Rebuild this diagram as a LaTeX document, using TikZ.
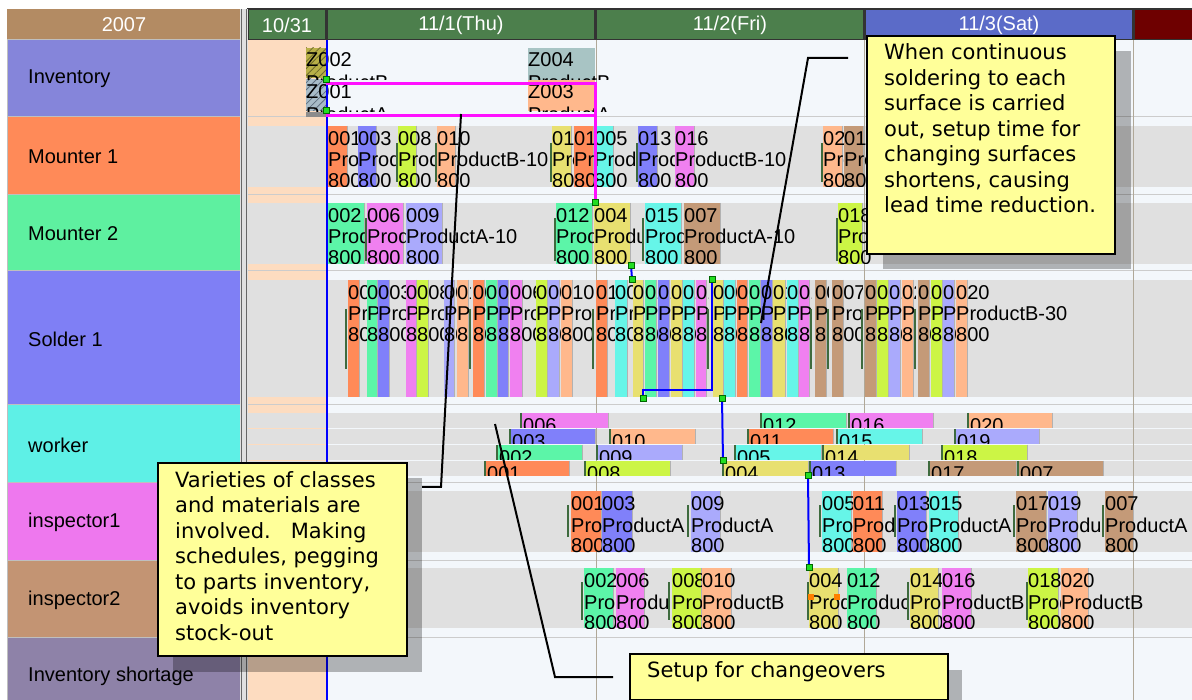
\documentclass[tikz,border=0pt]{standalone}
\usepackage{fontspec}
\setmainfont{DejaVu Sans}
\newfontfamily\uifont{Liberation Sans}
\usetikzlibrary{patterns.meta}

% palette
\definecolor{cOr}{HTML}{FF8A58}
\definecolor{cMi}{HTML}{5CF5A8}
\definecolor{cBl}{HTML}{8080FA}
\definecolor{cYe}{HTML}{E8E070}
\definecolor{cCy}{HTML}{66F5E8}
\definecolor{cPk}{HTML}{F080F0}
\definecolor{cBr}{HTML}{C49A78}
\definecolor{cYg}{HTML}{CCF545}
\definecolor{cLv}{HTML}{AAAAFC}
\definecolor{cPe}{HTML}{FFB88C}
\definecolor{hdrTan}{HTML}{B38B63}
\definecolor{hdrGreen}{HTML}{4C7F4C}
\definecolor{hdrBlue}{HTML}{5B6BC8}
\definecolor{hdrRed}{HTML}{6E0000}
\definecolor{lbInv}{HTML}{8585DA}
\definecolor{lbMnt}{HTML}{FF8A58}
\definecolor{lbMnt2}{HTML}{5EF0A0}
\definecolor{lbSld}{HTML}{7F7FF5}
\definecolor{lbWrk}{HTML}{5EF0E6}
\definecolor{lbIns}{HTML}{EE78EE}
\definecolor{lbIns2}{HTML}{C39473}
\definecolor{lbShort}{HTML}{8E82A8}
\definecolor{chartBg}{HTML}{F3F7FB}
\definecolor{bandGray}{HTML}{E0E0E0}
\definecolor{peach}{HTML}{FDDCC0}
\definecolor{setupGreen}{HTML}{3E6B3E}
\definecolor{markGreen}{HTML}{22DD22}
\definecolor{noteYellow}{HTML}{FFFF99}
\definecolor{zOlive}{HTML}{B8B048}
\definecolor{zOliveDk}{HTML}{6E6A2A}
\definecolor{zSlate}{HTML}{A8BCC8}
\definecolor{zSlateDk}{HTML}{607080}
\definecolor{zTeal}{HTML}{A8C4C4}
\definecolor{dayLine}{HTML}{B0A898}
\definecolor{pegMagenta}{HTML}{FF10FF}

\tikzset{
  jobtext/.style={anchor=base west, inner sep=0pt, font=\uifont\fontsize{20}{20}\selectfont, text=black},
  rowlabel/.style={anchor=west, inner sep=0pt, font=\uifont\fontsize{20}{20}\selectfont, text=black},
  headtext/.style={inner sep=0pt, font=\uifont\fontsize{20}{20}\selectfont, text=white},
  hdrcell/.style={draw=black!80, line width=1.2pt},
  labelcell/.style={draw=black!25, line width=1pt},
  setupline/.style={draw=setupGreen, line width=2.5pt},
  jobedge/.style={draw=black!30, line width=0.7pt},
  pegline/.style={draw=pegMagenta, line width=3pt},
  linkline/.style={draw=blue, line width=2pt},
  marker/.style={fill=markGreen, draw=green!40!black, line width=0.3pt, minimum size=6pt, inner sep=0pt},
  omarker/.style={fill=orange, minimum size=6pt, inner sep=0pt},
  note/.style={fill=noteYellow, draw=black, line width=2pt, inner sep=0pt, anchor=north west},
  noteshadow/.style={fill=black, opacity=0.28},
  notetext/.style={anchor=base west, inner sep=0pt, font=\fontsize{21}{25}\selectfont},
  leader/.style={draw=black, line width=2pt},
  hatch/.style={pattern={Lines[angle=45,distance=5pt,line width=0.8pt]}, pattern color=#1},
}

% row geometry: band top, band bottom, setup tick top, setup tick bottom, row name
\newcommand\rowband[5]{\def\rowtop{#1}\def\rowbot{#2}\def\ticktop{#3}\def\tickbot{#4}\def\rowname{#5}}
% one job bar: left, right, where its caption stops, colour, number, product
\newcommand\gjob[6]{%
  \fill[#4] (#1,\rowtop) rectangle (#2,\rowbot);
  \draw[jobedge] (#2,\rowtop) -- (#2,\rowbot);
  \begin{scope}
    \clip (#1,\rowtop) rectangle (#3,\rowbot);
    \node[jobtext] (\rowname-#5-n) at (#1,\rowtop+19.5) {#5};
    \node[jobtext] (\rowname-#5-p) at (#1,\rowtop+41) {#6};
    \node[jobtext] (\rowname-#5-q) at (#1,\rowtop+61.5) {800};
  \end{scope}}
\newcommand\setuptick[1]{\draw[setupline] (#1,\ticktop) -- (#1,\tickbot);}
% one worker bar: left, right, lane top, colour, number
\newcommand\wjob[5]{%
  \fill[#4] (#1,#3) rectangle (#2,#3+15);
  \draw[jobedge] (#2,#3) -- (#2,#3+15);
  \draw[setupline, line width=2pt] (#1+1,#3) -- (#1+1,#3+15);
  \begin{scope}
    \clip (#1,#3) rectangle (#2,#3+15);
    \node[jobtext] (w-#5) at (#1+3,#3+19.5) {#5};
  \end{scope}}

\begin{document}
\begin{tikzpicture}[x=1pt, y=-1pt]
\useasboundingbox (0,0) rectangle (1192,700);
\fill[white] (0,0) rectangle (1192,700);

% ---- header ----
\fill[hdrTan] (7,9) rectangle (240,40);
\node[headtext] (hYear) at (124,25) {2007};
\path[hdrcell, fill=hdrGreen] (248,9) rectangle (326,40);
\path[hdrcell, fill=hdrGreen] (327,9) rectangle (595,40);
\path[hdrcell, fill=hdrGreen] (596,9) rectangle (864,40);
\path[hdrcell, fill=hdrBlue] (865,9) rectangle (1133,40);
\path[hdrcell, fill=hdrRed] (1134,9) rectangle (1193,40);
\node[headtext] (hD0) at (287,25) {10/31};
\node[headtext] (hD1) at (461,25) {11/1(Thu)};
\node[headtext] (hD2) at (730,25) {11/2(Fri)};
\node[headtext] (hD3) at (999,25) {11/3(Sat)};

% ---- resource labels ----
\path[labelcell, fill=lbInv] (7,40) rectangle (240,117);
\path[labelcell, fill=lbMnt] (7,117) rectangle (240,195);
\path[labelcell, fill=lbMnt2] (7,195) rectangle (240,271);
\path[labelcell, fill=lbSld] (7,271) rectangle (240,405);
\path[labelcell, fill=lbWrk] (7,405) rectangle (240,483);
\path[labelcell, fill=lbIns] (7,483) rectangle (240,560);
\path[labelcell, fill=lbIns2] (7,560) rectangle (240,637);
\path[labelcell, fill=lbShort] (7,637) rectangle (240,701);
\node[rowlabel] (lInv) at (28,79) {Inventory};
\node[rowlabel] (lM1) at (28,157) {Mounter 1};
\node[rowlabel] (lM2) at (28,234) {Mounter 2};
\node[rowlabel] (lS1) at (28,339) {Solder 1};
\node[rowlabel] (lW) at (28,445) {worker};
\node[rowlabel] (lI1) at (28,522) {inspector1};
\node[rowlabel] (lI2) at (28,600) {inspector2};
\node[rowlabel] (lSh) at (28,676) {Inventory shortage};

% splitter between labels and chart
\fill[black!12] (240,9) rectangle (248,700);
\draw[black!60, line width=1pt] (241,9) -- (241,700);
\draw[black!60, line width=1pt] (246,9) -- (246,700);

% ---- chart background ----
\fill[chartBg] (248,40) rectangle (1192,700);
\fill[peach] (248,40) rectangle (326,700);
\foreach \a/\b in {126/187, 203/264, 280/397, 413/428, 429/444, 445/460, 461/476, 491/552, 568/628}
  \fill[bandGray] (248,\a) rectangle (1192,\b);
\foreach \r in {117, 195, 271, 405, 483, 560, 637}
  \draw[black!20, line width=1pt] (248,\r) -- (1192,\r);
\foreach \d in {596, 864, 1133}
  \draw[dayLine, line width=0.8pt] (\d,40) -- (\d,700);

% ---- inventory lots ----
\fill[zOlive] (306,48) rectangle (326,78);
\fill[hatch=zOliveDk] (306,48) rectangle (326,78);
\fill[zSlate] (306,79) rectangle (326,111);
\fill[hatch=zSlateDk] (306,79) rectangle (326,111);
\fill[black!45] (306,112) rectangle (326,117);
\fill[zTeal] (528,48) rectangle (595,80);
\fill[cPe] (528,80) rectangle (595,111);
\begin{scope}
  \clip (300,44) rectangle (700,80);
  \node[jobtext] (z002) at (306,67) {Z002};
  \node[jobtext] (z002p) at (306,90) {ProductB};
  \node[jobtext] (z004) at (528,67) {Z004};
  \node[jobtext] (z004p) at (528,90) {ProductB};
\end{scope}
\begin{scope}
  \clip (300,80) rectangle (700,112);
  \node[jobtext] (z001) at (306,99) {Z001};
  \node[jobtext] (z001p) at (306,122) {ProductA};
  \node[jobtext] (z003) at (528,99) {Z003};
  \node[jobtext] (z003p) at (528,122) {ProductA};
\end{scope}

% ---- Mounter 1 ----
\rowband{126}{187}{143}{182}{m1}
\gjob{328}{347}{358}{cOr}{001}{ProductB-10}
\gjob{358}{376}{397}{cBl}{003}{ProductB-10}
\setuptick{397}
\gjob{398}{416}{436}{cYg}{008}{ProductB-10}
\setuptick{436}
\gjob{437}{455}{551}{cPe}{010}{ProductB-10}
\setuptick{551}
\gjob{552}{571}{574}{cYe}{014}{ProductB-10}
\gjob{574}{593}{594}{cOr}{011}{ProductA-10}
\gjob{594}{613}{637}{cCy}{005}{ProductA-10}
\setuptick{637}
\gjob{638}{657}{675}{cBl}{013}{ProductA-10}
\gjob{675}{694}{822}{cPk}{016}{ProductB-10}
\setuptick{822}
\gjob{823}{842}{844}{cPe}{020}{ProductB-10}
\gjob{844}{863}{1192}{cBr}{017}{ProductA-10}

% ---- Mounter 2 ----
\rowband{203}{264}{218}{261}{m2}
\gjob{328}{364}{366}{cMi}{002}{ProductA-10}
\setuptick{366}
\gjob{367}{403}{406}{cPk}{006}{ProductA-10}
\gjob{406}{442}{555}{cLv}{009}{ProductA-10}
\setuptick{555}
\gjob{556}{592}{594}{cMi}{012}{ProductA-10}
\gjob{594}{630}{643}{cYe}{004}{ProductA-10}
\setuptick{643}
\gjob{645}{681}{684}{cCy}{015}{ProductA-10}
\gjob{684}{720}{837}{cBr}{007}{ProductA-10}
\setuptick{837}
\gjob{838}{862}{1192}{cYg}{018}{ProductA-10}

% ---- Solder 1 ----
\rowband{280}{397}{309}{369}{s1}
\setuptick{346}
\gjob{348}{359}{367}{cOr}{001}{ProductA-30}
\gjob{367}{377}{378}{cMi}{002}{ProductB-30}
\gjob{378}{389}{406}{cBl}{003}{ProductA-30}
\gjob{406}{416}{417}{cPk}{006}{ProductB-30}
\gjob{417}{428}{444}{cYg}{008}{ProductB-30}
\gjob{444}{454}{457}{cLv}{009}{ProductA-30}
\gjob{457}{468}{470}{cPe}{010}{ProductB-30}
\setuptick{470}
\gjob{473}{484}{486}{cOr}{001}{ProductA-30}
\gjob{486}{497}{498}{cMi}{002}{ProductB-30}
\gjob{498}{508}{510}{cBl}{003}{ProductA-30}
\gjob{510}{522}{536}{cPk}{006}{ProductB-30}
\gjob{536}{547}{548}{cYg}{008}{ProductB-30}
\gjob{548}{559}{561}{cLv}{009}{ProductA-30}
\gjob{561}{572}{593}{cPe}{010}{ProductB-30}
\setuptick{593}
\gjob{596}{607}{615}{cOr}{011}{ProductA-30}
\gjob{615}{627}{633}{cCy}{005}{ProductA-30}
\gjob{633}{643}{645}{cYe}{004}{ProductB-30}
\gjob{645}{656}{658}{cMi}{012}{ProductB-30}
\gjob{658}{669}{671}{cBl}{013}{ProductA-30}
\gjob{671}{682}{683}{cYe}{014}{ProductB-30}
\gjob{683}{694}{696}{cCy}{015}{ProductA-30}
\gjob{696}{706}{708}{cPk}{016}{ProductB-30}
\setuptick{708}
\gjob{713}{723}{724}{cYe}{004}{ProductB-30}
\gjob{724}{735}{737}{cCy}{005}{ProductA-30}
\gjob{737}{747}{749}{cOr}{011}{ProductA-30}
\gjob{749}{760}{761}{cMi}{012}{ProductB-30}
\gjob{761}{772}{773}{cBl}{013}{ProductA-30}
\gjob{773}{785}{787}{cYe}{014}{ProductB-30}
\gjob{787}{798}{799}{cCy}{015}{ProductA-30}
\gjob{799}{809}{811}{cPk}{016}{ProductB-30}
\setuptick{811}
\gjob{815}{826}{828}{cBr}{007}{ProductA-30}
\setuptick{828}
\gjob{832}{843}{862}{cBr}{007}{ProductA-30}
\setuptick{862}
\gjob{865}{876}{877}{cBr}{017}{ProductA-30}
\gjob{877}{888}{889}{cYg}{018}{ProductB-30}
\gjob{889}{900}{902}{cLv}{019}{ProductA-30}
\gjob{902}{913}{915}{cPe}{020}{ProductB-30}
\setuptick{915}
\gjob{918}{929}{931}{cBr}{017}{ProductA-30}
\gjob{931}{942}{943}{cYg}{018}{ProductB-30}
\gjob{943}{954}{956}{cLv}{019}{ProductA-30}
\gjob{956}{967}{1192}{cPe}{020}{ProductB-30}

% ---- worker (four lanes) ----
\wjob{520}{608}{413}{cPk}{006}
\wjob{760}{846}{413}{cMi}{012}
\wjob{848}{933}{413}{cPk}{016}
\wjob{967}{1052}{413}{cPe}{020}
\wjob{509}{595}{429}{cBl}{003}
\wjob{609}{695}{429}{cPe}{010}
\wjob{747}{833}{429}{cOr}{011}
\wjob{836}{922}{429}{cCy}{015}
\wjob{954}{1039}{429}{cLv}{019}
\wjob{496}{582}{445}{cMi}{002}
\wjob{596}{682}{445}{cLv}{009}
\wjob{734}{821}{445}{cCy}{005}
\wjob{822}{909}{445}{cYe}{014}
\wjob{941}{1027}{445}{cYg}{018}
\wjob{484}{569}{461}{cOr}{001}
\wjob{584}{670}{461}{cYg}{008}
\wjob{722}{808}{461}{cYe}{004}
\wjob{809}{896}{461}{cBl}{013}
\wjob{928}{1016}{461}{cBr}{017}
\wjob{1017}{1103}{461}{cBr}{007}

% ---- inspector1 ----
\rowband{491}{552}{505}{537}{i1}
\setuptick{568}
\gjob{571}{601}{602}{cOr}{001}{ProductA}
\gjob{602}{632}{688}{cBl}{003}{ProductA}
\setuptick{688}
\gjob{691}{720}{820}{cLv}{009}{ProductA}
\setuptick{820}
\gjob{822}{851}{853}{cCy}{005}{ProductA}
\gjob{853}{882}{895}{cOr}{011}{ProductA}
\setuptick{895}
\gjob{897}{926}{929}{cBl}{013}{ProductA}
\gjob{929}{958}{1014}{cCy}{015}{ProductA}
\setuptick{1014}
\gjob{1016}{1046}{1048}{cBr}{017}{ProductA}
\gjob{1048}{1077}{1103}{cLv}{019}{ProductA}
\setuptick{1103}
\gjob{1105}{1133}{1192}{cBr}{007}{ProductA}

% ---- inspector2 ----
\rowband{568}{628}{582}{620}{i2}
\setuptick{582}
\gjob{584}{613}{616}{cMi}{002}{ProductB}
\gjob{616}{644}{669}{cPk}{006}{ProductB}
\setuptick{669}
\gjob{672}{701}{702}{cYg}{008}{ProductB}
\gjob{702}{731}{808}{cPe}{010}{ProductB}
\setuptick{808}
\gjob{809}{838}{847}{cYe}{004}{ProductB}
\gjob{847}{876}{908}{cMi}{012}{ProductB}
\setuptick{908}
\gjob{910}{938}{942}{cYe}{014}{ProductB}
\gjob{942}{971}{1027}{cPk}{016}{ProductB}
\setuptick{1027}
\gjob{1028}{1058}{1061}{cYg}{018}{ProductB}
\gjob{1061}{1088}{1192}{cPe}{020}{ProductB}

% ---- current-time line ----
\draw[blue, line width=2pt] (326.5,40) -- (326.5,700);

% ---- pegging and sequence links ----
\coordinate (p1) at (326,84);
\coordinate (p2) at (595,84);
\coordinate (p3) at (595,202);
\coordinate (p4) at (326,116);
\coordinate (p5) at (595,116);
\draw[pegline] (p1) -- (p2) -- (p3);
\draw[pegline] (p4) -- (p5);
\coordinate (b1) at (631,265);
\coordinate (b2) at (632,279);
\coordinate (b3) at (712,279);
\coordinate (b4) at (712,390);
\coordinate (b5) at (643,390);
\coordinate (b6) at (643,398);
\coordinate (b7) at (722,398);
\coordinate (b8) at (723,460);
\coordinate (b9) at (808,475);
\coordinate (b10) at (809,567);
\draw[linkline] (b1) -- (b2);
\draw[linkline] (b3) -- (b4) -- (b5) -- (b6);
\draw[linkline] (b7) -- (b8);
\draw[linkline] (b9) -- (b10);
\node[marker] (k1) at (326,79) {};
\node[marker] (k2) at (326,110) {};
\node[marker] (k3) at (p3) {};
\foreach \c in {b1,b2,b3,b6,b7,b8,b9,b10}
  \node[marker] (k-\c) at (\c) {};
\node[omarker] (o1) at (811,597) {};
\node[omarker] (o2) at (837,597) {};

% ---- notes ----
\fill[noteshadow] (883,51) rectangle (1131,269);
\node[note, minimum width=248pt, minimum height=218pt] (noteA) at (866,35) {};
\foreach \t [count=\i from 0] in {When continuous, soldering to each, surface is carried, {out, setup time for}, changing surfaces, {shortens, causing}, lead time reduction.}
  \node[notetext] (noteA-\i) at (884,60+25.5*\i) {\t};

\fill[noteshadow] (173,478) rectangle (422,672);
\node[note, minimum width=249pt, minimum height=193pt] (noteB) at (157,462) {};
\foreach \t [count=\i from 0] in {Varieties of classes, and materials are, involved.\ \ \ Making, {schedules, pegging}, {to parts inventory,}, avoids inventory, stock-out}
  \node[notetext] (noteB-\i) at (175,487+25.5*\i) {\t};

\fill[noteshadow] (645,670) rectangle (962,700);
\node[note, minimum width=318pt, minimum height=46pt] (noteC) at (629,653) {};
\node[notetext] (noteC-0) at (647,677) {Setup for changeovers};

% leader lines
\coordinate (a1) at (848,58);
\coordinate (a2) at (808,58);
\coordinate (a3) at (761,323);
\draw[leader] (a1) -- (a2) -- (a3);
\coordinate (c1) at (422,487);
\coordinate (c2) at (441,487);
\coordinate (c3) at (461,114);
\draw[leader] (c1) -- (c2) -- (c3);
\coordinate (d1) at (613,677);
\coordinate (d2) at (555,677);
\coordinate (d3) at (495,424);
\draw[leader] (d1) -- (d2) -- (d3);
\end{tikzpicture}
\end{document}
